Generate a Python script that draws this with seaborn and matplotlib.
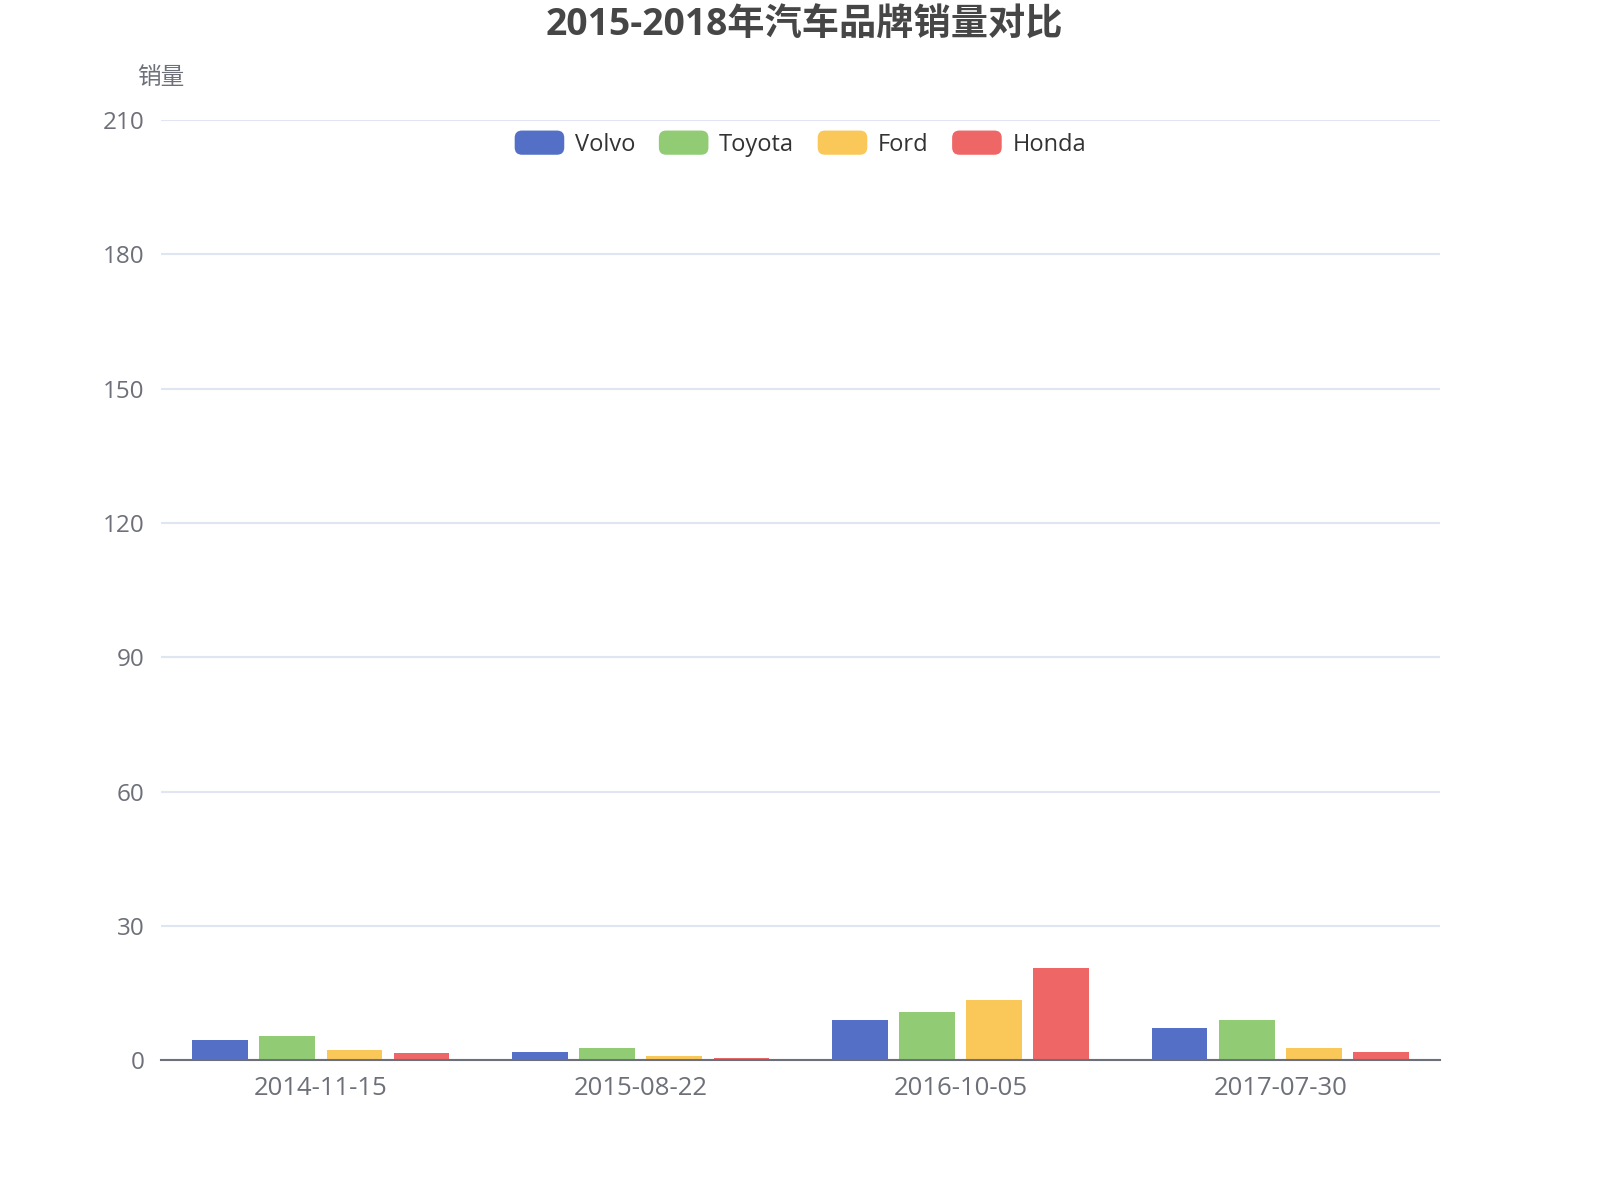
import numpy as np
import pandas as pd
import matplotlib
matplotlib.use("Agg")
import matplotlib.pyplot as plt
import seaborn as sns
from matplotlib.patches import FancyBboxPatch
from matplotlib.legend_handler import HandlerPatch

# data
dates = ["2014-11-15", "2015-08-22", "2016-10-05", "2017-07-30"]
brands = ["Volvo", "Toyota", "Ford", "Honda"]
volvo = [4.5, 1.8, 9.0, 7.2]
toyota = [5.5, 2.7, 10.8, 9.0]
ford = [2.25, 0.9, 13.5, 2.7]
honda = [1.6, 0.45, 20.6, 1.8]
colors = ["#5470c6", "#91cc75", "#fac858", "#ee6666"]

sns.set_style("white")
plt.rcParams['font.family'] = ['Open Sans', 'Noto Sans CJK SC', 'DejaVu Sans']

df = pd.DataFrame({
    "date": dates * 4,
    "brand": np.repeat(brands, len(dates)),
    "sales": volvo + toyota + ford + honda,
})

axis_col = "#6E7079"

fig = plt.figure(figsize=(16, 12), dpi=100)
ax = fig.add_axes([0.1006, 0.1163, 0.7995, 0.7836])
sns.barplot(data=df, x="date", y="sales", hue="brand", hue_order=brands,
            palette=colors, width=0.84, gap=0.17, saturation=1,
            linewidth=0, legend=False, ax=ax)

ax.set_xlim(-0.5, 3.5)
ax.set_ylim(0, 210)
ax.set_yticks(range(0, 211, 30))
ax.yaxis.grid(True, color="#E0E6F1", linewidth=1.5)
ax.set_axisbelow(True)
for s in ["left", "top", "right"]:
    ax.spines[s].set_visible(False)
ax.spines["bottom"].set_color(axis_col)
ax.spines["bottom"].set_linewidth(1.5)
ax.spines["bottom"].set_zorder(5)

ax.tick_params(axis="y", length=0, pad=12, labelsize=17.5, labelcolor=axis_col)

# ticks at category boundaries, labels at centres
ax.set_xticks(np.arange(-0.5, len(dates), 1.0))
ax.set_xticklabels([])
ax.set_xticks(range(len(dates)), labels=dates, minor=True)
ax.tick_params(axis="x", which="major", length=7, width=1.5, color=axis_col, direction="out")
ax.tick_params(axis="x", which="minor", length=0, pad=11, labelsize=18.5, labelcolor=axis_col)
ax.set_xlabel("")
ax.set_ylabel("")

fig.text(0.1006, 1 - 76 / 1170, "销量", ha="center", va="center",
         fontsize=17, color=axis_col)
fig.text(0.5026, 1 - 25 / 1170, "2015-2018年汽车品牌销量对比", ha="center",
         va="center", fontsize=26.8, fontweight="bold", color="#464646")


class RoundHandler(HandlerPatch):
    def create_artists(self, legend, orig, xd, yd, w, h, fs, trans):
        p = FancyBboxPatch((-xd, -yd), w, h,
                           boxstyle="round,pad=0,rounding_size=%f" % (h * 0.3),
                           facecolor=orig.get_facecolor(), edgecolor="none",
                           transform=trans)
        return [p]


handles = [FancyBboxPatch((0, 0), 1, 1, facecolor=c) for c in colors]
leg = fig.legend(handles, brands, loc="center", bbox_to_anchor=(0.5002, 1 - 140 / 1170),
                 ncol=4, frameon=False, fontsize=17, handlelength=2.1, handleheight=1.2,
                 handletextpad=0.45, columnspacing=1.0,
                 handler_map={FancyBboxPatch: RoundHandler()})
for t in leg.get_texts():
    t.set_color("#333333")

fig.savefig("out.png", dpi=100)
